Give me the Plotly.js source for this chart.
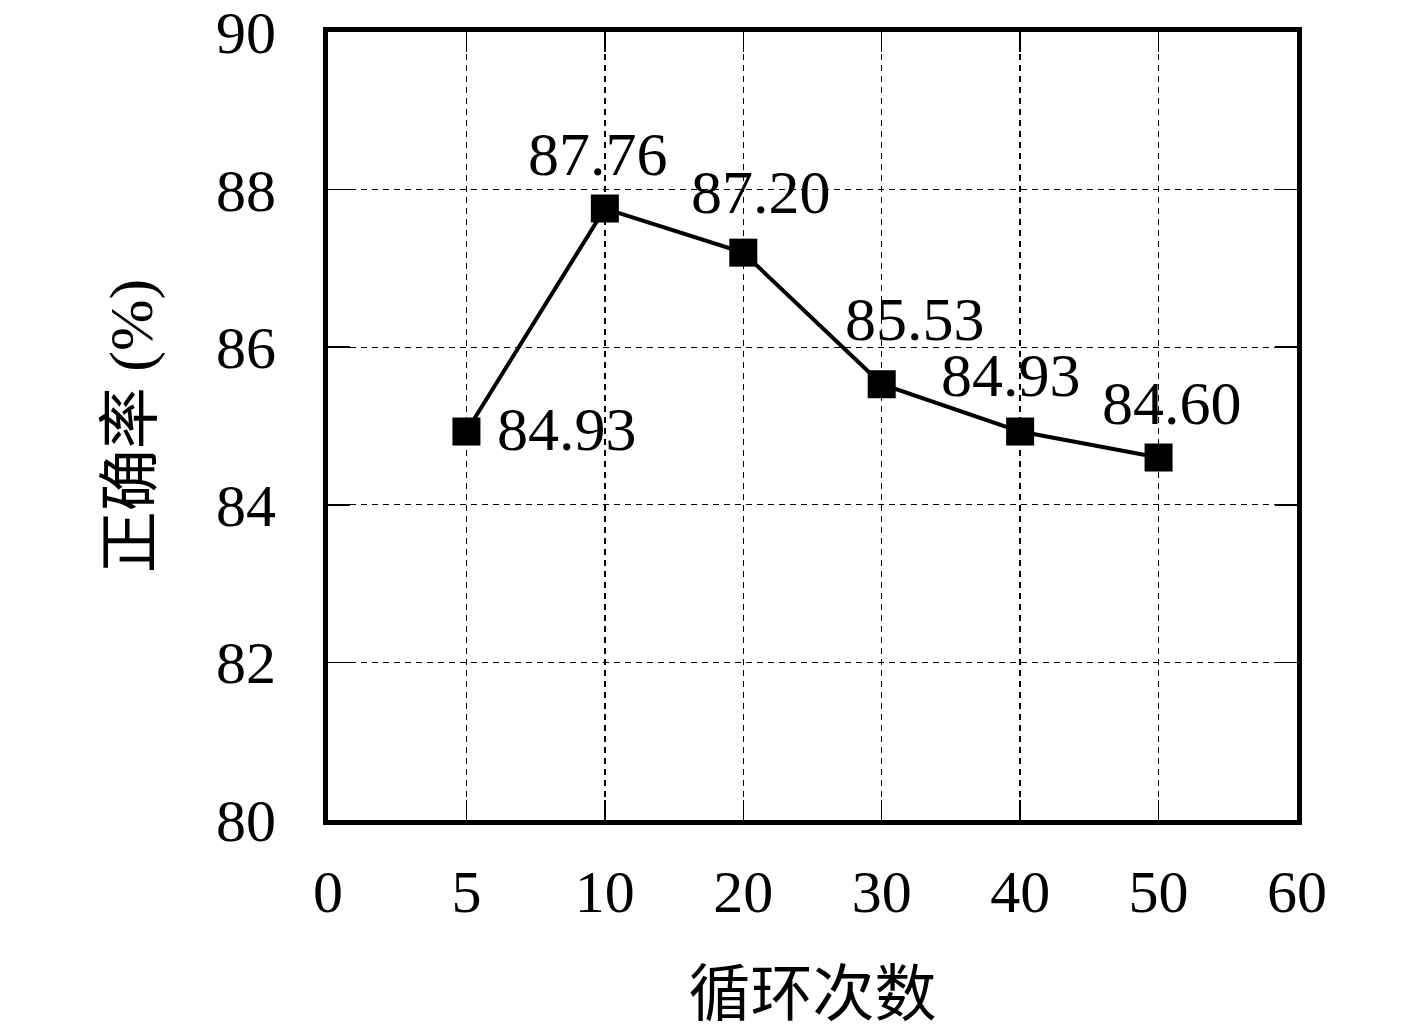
<!DOCTYPE html>
<html>
<head>
<meta charset="utf-8">
<script src="https://cdn.plot.ly/plotly-3.0.1.min.js"></script>
<style>html,body{margin:0;padding:0;background:#fff;}</style>
</head>
<body>
<div id="chart" style="width:1417px;height:1032px;"></div>
<script>
const categories = ['0', '5', '10', '20', '30', '40', '50', '60'];
const cycles = ['5', '10', '20', '30', '40', '50'];
const accuracy = [84.93, 87.76, 87.20, 85.53, 84.93, 84.60];
const labels = ['84.93', '87.76', '87.20', '85.53', '84.93', '84.60'];
const yTicks = [80, 82, 84, 86, 88, 90];

// label placement offsets (style only, pixels)
const labelDx = [101, -7, 18, 33, -9, 13];
const labelDy = [3, 55, 61, 65, 57, 55];

const serif = '"Liberation Serif", "Noto Sans CJK SC", serif';

const trace = {
  x: cycles,
  y: accuracy,
  type: 'scatter',
  mode: 'lines+markers',
  line: {color: '#000', width: 4},
  marker: {symbol: 'square', size: 28, color: '#000'},
  cliponaxis: false,
  hoverinfo: 'none'
};

const annotations = cycles.map((c, i) => ({
  x: categories.indexOf(c), y: accuracy[i], xref: 'x', yref: 'y',
  text: labels[i], showarrow: false,
  xanchor: 'center', yanchor: 'middle',
  xshift: labelDx[i], yshift: labelDy[i],
  font: {family: serif, size: 62, color: '#000'}
}));

const layout = {
  width: 1417,
  height: 1032,
  margin: {l: 328, r: 120, t: 32, b: 212},
  paper_bgcolor: '#fff',
  plot_bgcolor: '#fff',
  showlegend: false,
  font: {family: serif, color: '#000'},
  annotations: annotations,
  xaxis: {
    type: 'category',
    categoryorder: 'array',
    categoryarray: categories,
    tickvals: categories,
    range: [0, 7],
    showline: true, linecolor: '#000', linewidth: 5, mirror: 'all',
    ticks: 'inside', ticklen: 20, tickwidth: 1.5, tickcolor: '#000',
    showgrid: true, gridcolor: '#000', gridwidth: 1.3, griddash: '6px,5px',
    zeroline: false,
    tickfont: {family: serif, size: 60, color: '#000'},
    ticklabelstandoff: 15,
    ticklabeloverflow: 'allow',
    title: {text: '循环次数', font: {family: serif, size: 62, color: '#000'}, standoff: 50}
  },
  yaxis: {
    range: [80, 90],
    tickvals: yTicks,
    showline: true, linecolor: '#000', linewidth: 5, mirror: 'all',
    ticks: 'inside', ticklen: 22, tickwidth: 1.5, tickcolor: '#000',
    showgrid: true, gridcolor: '#000', gridwidth: 1.3, griddash: '6px,5px',
    zeroline: false,
    tickfont: {family: serif, size: 60, color: '#000'},
    ticklabelstandoff: 35,
    ticklabeloverflow: 'allow',
    title: {text: '正确率 (%)', font: {family: serif, size: 62, color: '#000'}, standoff: 45}
  }
};

Plotly.newPlot('chart', [trace], layout, {staticPlot: true, displayModeBar: false});
</script>
</body>
</html>
